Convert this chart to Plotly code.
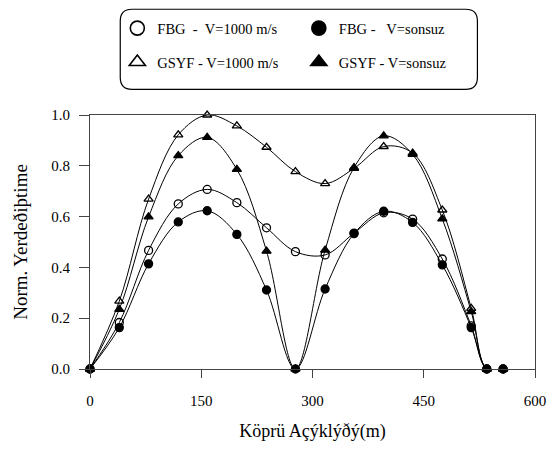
import plotly.graph_objects as go

# Data
span_m = [0, 39.5, 79, 119, 158, 198, 238, 277, 317, 356, 396, 435, 475, 514, 535, 557]
fbg_1000 = [0, 0.183, 0.467, 0.650, 0.707, 0.655, 0.556, 0.462, 0.449, 0.535, 0.615, 0.590, 0.433, 0.170, 0, 0]
fbg_inf = [0, 0.163, 0.414, 0.579, 0.623, 0.530, 0.311, 0, 0.315, 0.533, 0.621, 0.577, 0.410, 0.163, 0, 0]
gsyf_1000 = [0, 0.267, 0.669, 0.922, 1.0, 0.957, 0.873, 0.777, 0.730, 0.790, 0.876, 0.850, 0.626, 0.239, 0, 0]
gsyf_inf = [0, 0.235, 0.599, 0.840, 0.912, 0.786, 0.464, 0, 0.468, 0.793, 0.918, 0.845, 0.591, 0.226, 0, 0]

x_ticks = [0, 150, 300, 450, 600]
y_ticks = [0, 0.2, 0.4, 0.6, 0.8, 1.0]

NB = "\u00a0"
series = [
    ("FBG" + NB * 2 + "-" + NB * 2 + "V=1000 m/s", fbg_1000, "circle-open", "legend", "g1"),
    ("GSYF - V=1000 m/s", gsyf_1000, "triangle-up-open", "legend", "g2"),
    ("FBG -" + NB * 3 + "V=sonsuz", fbg_inf, "circle", "legend2", "g3"),
    ("GSYF - V=sonsuz", gsyf_inf, "triangle-up", "legend2", "g4"),
]

FONT = "Times New Roman, Liberation Serif, serif"
fig = go.Figure()
for name, ys, sym, lg, grp in series:
    fig.add_trace(go.Scatter(
        x=span_m, y=ys, mode="lines+markers", showlegend=False,
        line=dict(color="black", width=1, shape="spline", smoothing=1.0),
        marker=dict(symbol=sym, size=8, color="black", line=dict(color="black", width=1.3)),
        cliponaxis=False,
    ))
for name, ys, sym, lg, grp in series:
    fig.add_trace(go.Scatter(
        x=[None], y=[None], mode="markers", name=name, legend=lg, legendgroup=grp,
        marker=dict(symbol=sym, size=14, color="black", line=dict(color="black", width=1.6)),
    ))

# rounded legend box (paper coords)
def px_x(p):
    return (p - 90) / 456
def px_y(p):
    return 1 + (115 - p) / 257
x0, x1, y0, y1 = px_x(121), px_x(487), px_y(89), px_y(8)
rx, ry = 12 / 456, 12 / 257
path = (f"M {x0+rx},{y1} L {x1-rx},{y1} Q {x1},{y1} {x1},{y1-ry} "
        f"L {x1},{y0+ry} Q {x1},{y0} {x1-rx},{y0} L {x0+rx},{y0} "
        f"Q {x0},{y0} {x0},{y0+ry} L {x0},{y1-ry} Q {x0},{y1} {x0+rx},{y1} Z")
fig.add_shape(type="path", path=path, xref="paper", yref="paper",
              line=dict(color="black", width=1.2), fillcolor="rgba(0,0,0,0)")

leg_common = dict(bgcolor="rgba(0,0,0,0)", borderwidth=0, font=dict(family=FONT, size=14.5, color="black"),
                  traceorder="grouped", tracegroupgap=12, itemsizing="trace",
                  xanchor="left", yanchor="top", orientation="v")
fig.update_layout(
    width=557, height=449,
    margin=dict(l=90, r=11, t=115, b=77),
    paper_bgcolor="white", plot_bgcolor="white",
    font=dict(family=FONT, size=15, color="black"),
    legend=dict(x=px_x(118), y=px_y(11), **leg_common),
    legend2=dict(x=px_x(304), y=px_y(11), **leg_common),
    xaxis=dict(range=[0, 600], tickvals=x_ticks, showgrid=False, zeroline=False,
               showline=True, linecolor="#444", linewidth=1, mirror=True,
               ticks="outside", ticklen=8, tickcolor="#444", ticklabelstandoff=10,
               tickfont=dict(family=FONT, size=15),
               title=dict(text="Köprü Açýklýðý(m)", font=dict(family=FONT, size=18), standoff=16)),
    yaxis=dict(range=[0, 1.0], tickvals=y_ticks, tickformat=".1f", showgrid=False, zeroline=False,
               showline=True, linecolor="#444", linewidth=1, mirror=True,
               ticks="outside", ticklen=10, tickcolor="#444", ticklabelstandoff=6,
               tickfont=dict(family=FONT, size=15),
               title=dict(text="Norm. Yerdeðiþtime", font=dict(family=FONT, size=19), standoff=18)),
)
fig.write_html("out.html")
